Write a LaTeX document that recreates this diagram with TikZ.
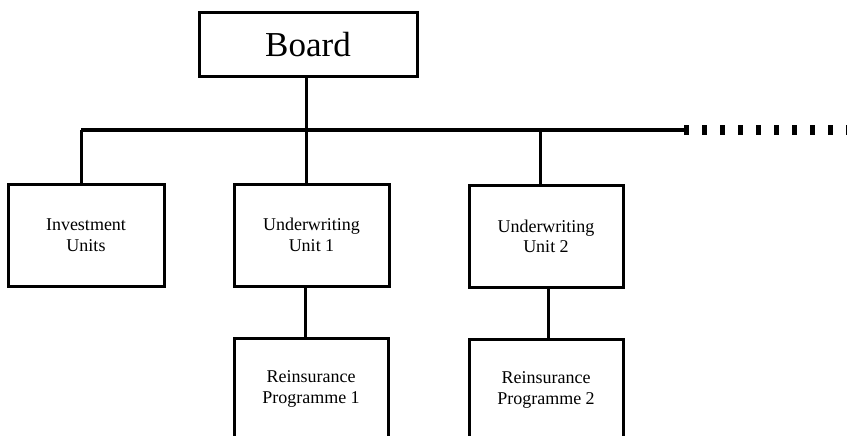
\documentclass[tikz,border=0pt]{standalone}
\usepackage{fontspec}
\setmainfont{Liberation Serif}
\begin{document}
\begin{tikzpicture}[x=1pt,y=-1pt,
  unitbox/.style={draw, line width=3pt, minimum width=155pt, minimum height=102pt,
    inner sep=0pt, align=center, font=\fontsize{18}{20.5}\selectfont},
  link/.style={line width=3pt},
  tail/.style={line width=9pt, dash pattern=on 5pt off 13pt}]
\useasboundingbox (0,0) rectangle (847,436);
\clip (0,0) rectangle (847,436);

% top of the hierarchy
\node[draw, line width=3pt, minimum width=218pt, minimum height=64pt, inner sep=0pt,
  font=\fontsize{35}{40}\selectfont] (board) at (308,45) {Board};

% second level
\node[unitbox, minimum width=156pt] (inv) at (86,235) {Investment\\Units};
\node[unitbox] (uw1) at (311.5,235) {Underwriting\\Unit 1};
\node[unitbox, minimum width=154pt] (uw2) at (546,236.5) {Underwriting\\Unit 2};

% third level (runs past the lower edge)
\node[unitbox, minimum width=154pt] (re1) at (311,389) {Reinsurance\\Programme 1};
\node[unitbox, minimum width=154pt] (re2) at (546,390) {Reinsurance\\Programme 2};

% horizontal bus
\coordinate (busL) at (81,130);
\coordinate (busR) at (686,130);
\coordinate (j1) at (306,130);
\coordinate (j2) at (540,130);
\coordinate (tailS) at (684,130);
\coordinate (tailE) at (852,130);

\draw[link] (busL) -- (busR);
\draw[tail] (tailS) -- (tailE);

% drops from the bus
\draw[link] (board.south -| j1) -- (j1);
\draw[link] (busL) -- (inv.north -| busL);
\draw[link] (j1) -- (uw1.north -| j1);
\draw[link] (j2) -- (uw2.north -| j2);

% units to their reinsurance programmes
\draw[link] ([xshift=-6pt]uw1.south) -- ([xshift=-6pt]uw1.south |- re1.north);
\draw[link] ([xshift=2pt]uw2.south) -- ([xshift=2pt]uw2.south |- re2.north);
\end{tikzpicture}
\end{document}
